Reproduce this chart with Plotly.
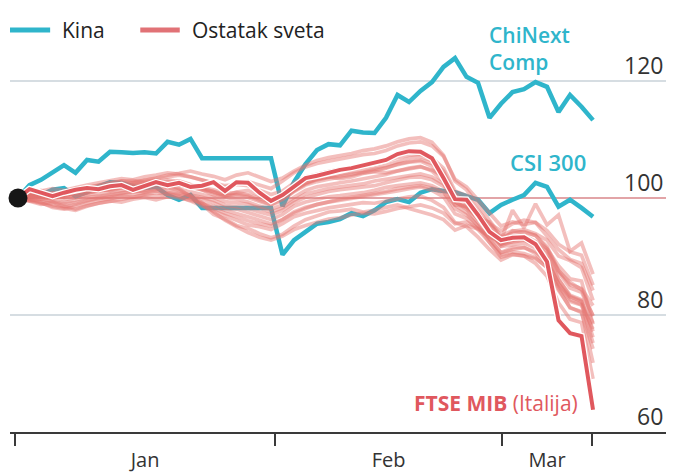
import plotly.graph_objects as go

# ---------------- data (index = 100 at start) ----------------
chinext = [
    100, 102.2, 103.1, 104.4, 105.6, 104.3, 106.5, 106.2, 107.9, 107.8,
    107.7, 107.8, 107.6, 109.6, 109.1, 110.1, 106.8, 106.8, 106.8, 106.8,
    106.8, 106.8, 106.8, 98.6, 102.7, 105.8, 108.2, 109.2, 109.0, 111.5,
    111.2, 111.1, 113.7, 117.6, 116.4, 118.3, 119.8, 122.4, 123.9, 120.7,
    119.7, 113.7, 116.1, 118.1, 118.6, 119.8, 119.0, 114.7, 117.6, 115.6,
    113.3,
]
csi300 = [
    100, 100.2, 100.5, 101.4, 101.7, 100.3, 101.0, 102.0, 102.7, 102.6,
    102.0, 101.7, 101.9, 100.5, 99.7, 100.5, 98.3, 98.3, 98.3, 98.3,
    98.3, 98.3, 98.3, 90.3, 92.8, 94.2, 95.6, 95.9, 96.4, 97.4,
    96.9, 97.9, 99.3, 99.8, 99.3, 100.9, 101.5, 101.2, 101.0, 100.3,
    99.7, 97.4, 98.8, 99.7, 100.5, 102.6, 101.9, 98.5, 99.7, 98.3,
    96.8,
]
ftse_mib = [
    100, 101.5, 100.9, 100.3, 100.9, 101.4, 101.7, 101.5, 102.0, 102.2,
    101.4, 102.0, 102.7, 102.2, 102.6, 101.9, 102.1, 102.7, 101.2, 102.7,
    102.6, 100.9, 99.5, 100.5, 102.0, 103.4, 103.8, 104.3, 104.8, 105.1,
    105.6, 106.0, 106.5, 107.5, 108.0, 107.9, 106.8, 103.4, 99.8, 99.7,
    97.1, 94.2, 92.8, 93.2, 93.3, 92.1, 89.1, 79.1, 76.9, 76.4,
    63.8,
]
rest_1 = [
    100, 100.4, 100.2, 100.9, 100.6, 101.4, 101.8, 102.1, 102.4, 102.9,
    103, 102.6, 102.9, 103.1, 102.8, 102.2, 101.4, 100.5, 100.3, 101,
    101.3, 100.4, 99.2, 100, 101.3, 102.5, 103.3, 103.6, 103.3, 103.6,
    104.2, 104.5, 104.3, 104.6, 105, 105.3, 104.8, 103.7, 100.5, 98.9,
    96.3, 95.9, 92.9, 97.9, 94.9, 99, 95.4, 97.1, 90.9, 92.3,
    87,
]
rest_2 = [
    100, 100.2, 100.6, 100.3, 100.9, 101.2, 101.3, 101.7, 101.9, 102.5,
    102.7, 103, 103.2, 103.5, 103.9, 103.6, 103.1, 102.5, 101.8, 102.6,
    102.8, 102.2, 101.6, 102.9, 104.3, 105.3, 105.9, 106.3, 106.7, 107,
    107.4, 107.6, 108.1, 108.9, 109.4, 109.6, 108.9, 107.1, 103.2, 101.9,
    99.6, 97.4, 95.2, 95.9, 95.5, 95.8, 93.4, 91.2, 89.5, 88.8,
    84.2,
]
rest_3 = [
    100, 100.5, 100.2, 99.9, 100.4, 101, 101.3, 101.8, 102.3, 102.1,
    102.6, 103, 103.4, 103.9, 104.2, 104.6, 104.1, 103.7, 103.1, 103.9,
    104.3, 103.6, 102.8, 103.4, 104.6, 105.6, 106.4, 106.9, 107.2, 107.6,
    108.1, 108.4, 108.9, 109.6, 110.1, 110.3, 109.5, 107.3, 102.9, 101.4,
    98.8, 96.1, 93.5, 94.4, 94.1, 93.6, 91.3, 87.5, 85.6, 84.3,
    79.8,
]
rest_4 = [
    100, 100.8, 101.3, 100.6, 100.1, 100.9, 101.7, 102.2, 102.6, 102.9,
    102.5, 102.8, 103.1, 102.3, 101.6, 100.2, 98.9, 97.2, 96.4, 95.3,
    94.8, 93.9, 93.2, 93.8, 95.2, 96.3, 96.9, 97.6, 97.8, 98.1,
    97.6, 97.9, 98.4, 98.8, 98.2, 97.7, 97.1, 96.3, 94.5, 95.3,
    94.7, 93.3, 92.6, 94.3, 94.6, 93.9, 92.8, 90.1, 89.3, 88.1,
    82.5,
]
rest_5 = [
    100, 99.6, 99.1, 98.6, 98.2, 97.9, 98.6, 99.1, 99.4, 99.8,
    100.2, 100.5, 100.3, 100.7, 100.2, 99.5, 98.6, 97.8, 96.9, 96.1,
    95.4, 95.1, 94.6, 95.6, 96.8, 97.4, 97.9, 98.3, 98.6, 98.9,
    99.2, 99.1, 99.5, 99.9, 100.2, 100.3, 99.6, 98.4, 95.8, 95.1,
    93.3, 91.2, 89.4, 90.3, 90.1, 89.6, 88.2, 84.9, 82.3, 81.7,
    77.6,
]
rest_6 = [
    100, 100.1, 99.8, 99.5, 99.2, 99.6, 100.1, 100.3, 100.6, 100.9,
    101.2, 101.1, 101.5, 101.8, 101.5, 101, 100.6, 100.1, 99.4, 99.2,
    98.9, 98.3, 97.6, 98.3, 99.6, 100.7, 101.2, 101.6, 101.9, 102.2,
    102.4, 102.9, 103.2, 103.5, 103.9, 104.1, 103.6, 102.4, 99.3, 98.4,
    96.8, 94.3, 92.1, 92.8, 93.1, 92.4, 90.9, 87.3, 84.6, 83.9,
    79.9,
]
rest_7 = [
    100, 99.8, 99.3, 98.9, 98.5, 98.9, 99.5, 99.9, 100.2, 100.4,
    100.7, 100.9, 101.2, 100.9, 100.6, 100.4, 99.8, 99.2, 98.3, 98.1,
    97.5, 96.9, 96.3, 97.2, 98.6, 99.3, 99.8, 100.2, 100.4, 100.6,
    100.9, 101.3, 101.8, 102.1, 102.4, 102.6, 102.1, 101.1, 98.2, 97.1,
    95.3, 93.1, 90.6, 91.2, 91.5, 90.8, 89.1, 85.4, 83.1, 82.3,
    76.2,
]
rest_8 = [
    100, 100.2, 100.7, 100.4, 100.1, 100.3, 100.8, 101.3, 101.5, 101.9,
    102.1, 102.3, 102.6, 102.4, 102.9, 102.3, 101.7, 101.2, 100.5, 100.4,
    100.1, 99.4, 98.8, 99.6, 101.1, 102.2, 102.8, 103.2, 103.5, 103.9,
    104.3, 104.6, 105.1, 105.8, 106.2, 106.5, 105.9, 104.2, 100.1, 99.3,
    96.9, 94.2, 91.8, 92.6, 92.9, 92.2, 90.3, 86.1, 83.4, 82.6,
    78.6,
]
rest_9 = [
    100, 99.4, 98.9, 99.3, 98.6, 98.1, 98.7, 99.1, 99.5, 99.3,
    99.8, 100.1, 99.7, 100.2, 100, 99.6, 99.1, 98.6, 97.9, 97.4,
    96.8, 96.2, 95.6, 96.3, 97.4, 98.2, 98.9, 99.3, 99.6, 99.9,
    100.3, 100.5, 100.9, 101.2, 101.6, 101.9, 101.3, 100.2, 97.3, 96.5,
    94.6, 92.4, 90.2, 90.8, 90.5, 89.8, 88.1, 84.2, 81.3, 80.4,
    74.2,
]
rest_10 = [
    100, 100.6, 100.3, 100.1, 100.5, 100.9, 101.3, 101.6, 101.2, 101.7,
    102, 101.6, 102.1, 102.5, 102.2, 101.9, 101.5, 101.1, 100.3, 100.6,
    100.4, 99.6, 98.9, 99.8, 101.2, 102.4, 103.1, 103.5, 103.8, 104.2,
    104.4, 104.9, 105.2, 105.7, 106.1, 106.3, 105.4, 103.5, 99.4, 98.1,
    95.8, 92.9, 90.7, 91.5, 91.6, 90.5, 88.6, 84.5, 81.2, 80.6,
    71.8,
]
rest_11 = [
    100, 99.9, 100.4, 100.2, 99.7, 100, 100.5, 100.7, 101, 101.3,
    101.6, 101.9, 102.2, 102.5, 102.3, 101.8, 101.3, 100.9, 100.1, 99.8,
    99.3, 98.6, 98.1, 98.8, 100.1, 101.3, 101.9, 102.3, 102.6, 102.9,
    103.3, 103.6, 104, 104.6, 105.1, 105.4, 104.6, 102.8, 98.8, 97.5,
    95.2, 92.4, 89.9, 90.4, 90.1, 88.8, 86.6, 82.1, 79.3, 78.7,
    69.1,
]
rest_12 = [
    100, 99.7, 99.2, 98.4, 98.1, 98.6, 99.2, 99.6, 99.9, 100.3,
    100.1, 100.6, 100.9, 100.7, 100.4, 99.9, 99.1, 98.3, 97.4, 96.8,
    96.1, 95.6, 95.2, 96.3, 97.6, 98.4, 98.9, 99.4, 99.8, 100.1,
    100.4, 100.7, 101.1, 101.6, 101.9, 102.1, 101.7, 100.9, 98.8, 98.6,
    97.1, 95.6, 94.4, 95.6, 96.2, 95.8, 94.4, 92.1, 90.8, 90.2,
    85.1,
]
rest_13 = [
    100, 100.7, 101.2, 101.6, 101.3, 101.8, 102.2, 102.6, 102.9, 103.3,
    103.1, 103.6, 103.9, 104.3, 104.1, 103.6, 103.2, 102.7, 102.1, 102.3,
    102.1, 101.3, 100.6, 101.2, 102.6, 103.6, 104.1, 104.5, 104.9, 105.2,
    105.5, 105.9, 106.3, 106.9, 107.3, 107.5, 106.8, 105.1, 101.2, 100.4,
    97.9, 95.4, 93.3, 93.9, 94.3, 93.6, 91.7, 87.6, 85.2, 84.5,
    81.6,
]
rest_14 = [
    100, 100.3, 99.8, 100.1, 100.4, 100.8, 101.1, 101.4, 101.7, 102.1,
    101.8, 102.2, 102.4, 101.8, 101.3, 100.3, 99.2, 97.6, 96.2, 95.1,
    94.1, 93.3, 92.8, 93.5, 94.6, 95.3, 95.9, 96.4, 96.6, 97.1,
    97.4, 97.3, 97.7, 98.2, 98.5, 98.8, 98.3, 97.4, 95.6, 95.9,
    94.8, 93.6, 92.1, 93.2, 93.6, 92.6, 91.3, 88.4, 86.2, 85.8,
    78.4,
]
rest_15 = [
    100, 100.1, 100.6, 100.9, 100.6, 100.4, 100.9, 101.2, 101.6, 101.8,
    102.3, 102.1, 102.5, 102.8, 102.6, 102.2, 101.9, 101.4, 100.8, 100.9,
    100.6, 99.9, 99.4, 100.2, 101.5, 102.6, 103.2, 103.7, 104.1, 104.5,
    104.8, 105.1, 105.6, 106.2, 106.8, 107.1, 106.4, 104.6, 100.7, 99.6,
    97.2, 94.6, 92.2, 92.5, 92.8, 91.9, 89.6, 85.3, 82.6, 81.8,
    75.2,
]
rest_16 = [
    100, 99.5, 99.8, 99.4, 99, 99.2, 99.7, 100.1, 100.4, 100.8,
    101, 101.3, 101.6, 101.2, 100.9, 100.5, 100.1, 99.6, 98.8, 98.5,
    98.2, 97.6, 97.1, 97.9, 99.2, 100.1, 100.6, 101.1, 101.4, 101.6,
    101.9, 102.1, 102.6, 103.1, 103.5, 103.6, 103.1, 102, 99.4, 98.3,
    96.4, 94, 91.7, 92, 92.3, 91.5, 89.8, 86.1, 83.2, 82.4,
    77.2,
]
rest_of_world = [rest_1, rest_2, rest_3, rest_4, rest_5, rest_6, rest_7, rest_8,
                 rest_9, rest_10, rest_11, rest_12, rest_13, rest_14, rest_15, rest_16]

months = ["Jan", "Feb", "Mar"]
month_bounds = [-0.26, 22.35, 42.1, 49.9]      # trading-day index of month boundaries
y_ticks = [60, 80, 100, 120]
grid_values = [80, 100, 120]
legend_labels = ["Kina", "Ostatak sveta"]
label_chinext = "ChiNext<br>Comp"
label_csi = "CSI 300"
label_ftse = "FTSE MIB <span style='font-weight:400'>(Italija)</span>"

# ---------------- styling ----------------
BLUE = "#2fb5cb"
RED = "#e0585e"
LIGHT = "rgba(228,116,112,0.46)"
LEGEND_RED = "#e17276"
GRID = "#c8d2d8"
BASE = "#d9868a"
AXIS = "#3a3a3a"
FONT = "Open Sans"

x = list(range(len(ftse_mib)))
fig = go.Figure()

for g in grid_values:
    fig.add_shape(type="line", xref="paper", x0=0, x1=1, yref="y", y0=g, y1=g,
                  line=dict(color=BASE if g == 100 else GRID, width=1.6), layer="below")

for s in (chinext, csi300):
    fig.add_trace(go.Scatter(x=x, y=s, mode="lines", line=dict(color=BLUE, width=4.5),
                             showlegend=False, hoverinfo="skip"))
for s in rest_of_world:
    fig.add_trace(go.Scatter(x=x, y=s, mode="lines", line=dict(color=LIGHT, width=3.7),
                             showlegend=False, hoverinfo="skip"))
fig.add_trace(go.Scatter(x=x, y=ftse_mib, mode="lines", line=dict(color="white", width=6.5),
                         showlegend=False, hoverinfo="skip"))
fig.add_trace(go.Scatter(x=x, y=ftse_mib, mode="lines", line=dict(color=RED, width=4),
                         showlegend=False, hoverinfo="skip"))
fig.add_trace(go.Scatter(x=[x[0]], y=[ftse_mib[0]], mode="markers",
                         marker=dict(color="#161616", size=19), showlegend=False,
                         hoverinfo="skip", cliponaxis=False))

# month labels centred between boundary ticks
mid = [(month_bounds[i] + month_bounds[i + 1]) / 2 for i in range(len(months))]

# the page body adds an 8px offset, so the figure is 8px smaller and shifted
fig.update_layout(
    width=666, height=468,
    margin=dict(l=2, r=6, t=32, b=44),
    paper_bgcolor="white", plot_bgcolor="white",
    font=dict(family=FONT, color="#222"),
    showlegend=False,
    xaxis=dict(range=[-0.696, 56.52], showgrid=False, zeroline=False,
               showline=True, linecolor=AXIS, linewidth=1.5,
               tickmode="array", tickvals=mid, ticktext=months, ticks="",
               ticklabelstandoff=9,
               tickfont=dict(size=20, color="#333", family=FONT),
               minor=dict(tickmode="array", tickvals=month_bounds, ticks="outside",
                          ticklen=12, tickwidth=1.5, tickcolor=AXIS, showgrid=False)),
    yaxis=dict(range=[60, 127], showgrid=False, zeroline=False,
               showline=False, showticklabels=False, ticks=""),
)

# y tick labels sit above their gridlines at the right edge
for v in y_ticks:
    fig.add_annotation(xref="paper", x=1, xanchor="right", xshift=-3,
                       y=v, yanchor="bottom", yshift=-2, text=str(v), showarrow=False,
                       font=dict(size=23, color="#333", family=FONT))

# legend drawn manually (paper coords)
fig.add_shape(type="line", xref="paper", yref="paper", x0=0.0, x1=0.061, y0=1.0255, y1=1.0255,
              line=dict(color=BLUE, width=5))
fig.add_shape(type="line", xref="paper", yref="paper", x0=0.198, x1=0.258, y0=1.0255, y1=1.0255,
              line=dict(color=LEGEND_RED, width=5))
fig.add_annotation(xref="paper", yref="paper", x=0.076, y=1.0255, text=legend_labels[0],
                   showarrow=False, xanchor="left", yanchor="middle",
                   font=dict(size=21, color="#222", family=FONT))
fig.add_annotation(xref="paper", yref="paper", x=0.274, y=1.0255, text=legend_labels[1],
                   showarrow=False, xanchor="left", yanchor="middle",
                   font=dict(size=21, color="#222", family=FONT))

# series labels
fig.add_annotation(x=40.8, y=125.5, text=label_chinext, showarrow=False, xanchor="left",
                   yanchor="middle", align="left",
                   font=dict(size=21, color=BLUE, family=FONT, weight=600))
fig.add_annotation(x=42.6, y=106.2, text=label_csi, showarrow=False, xanchor="left",
                   yanchor="middle", font=dict(size=22, color=BLUE, family=FONT, weight=600))
fig.add_annotation(x=48.9, y=65.0, text=label_ftse, showarrow=False, xanchor="right",
                   yanchor="middle", font=dict(size=21, color=RED, family=FONT, weight=700))

fig.write_html("out.html")
